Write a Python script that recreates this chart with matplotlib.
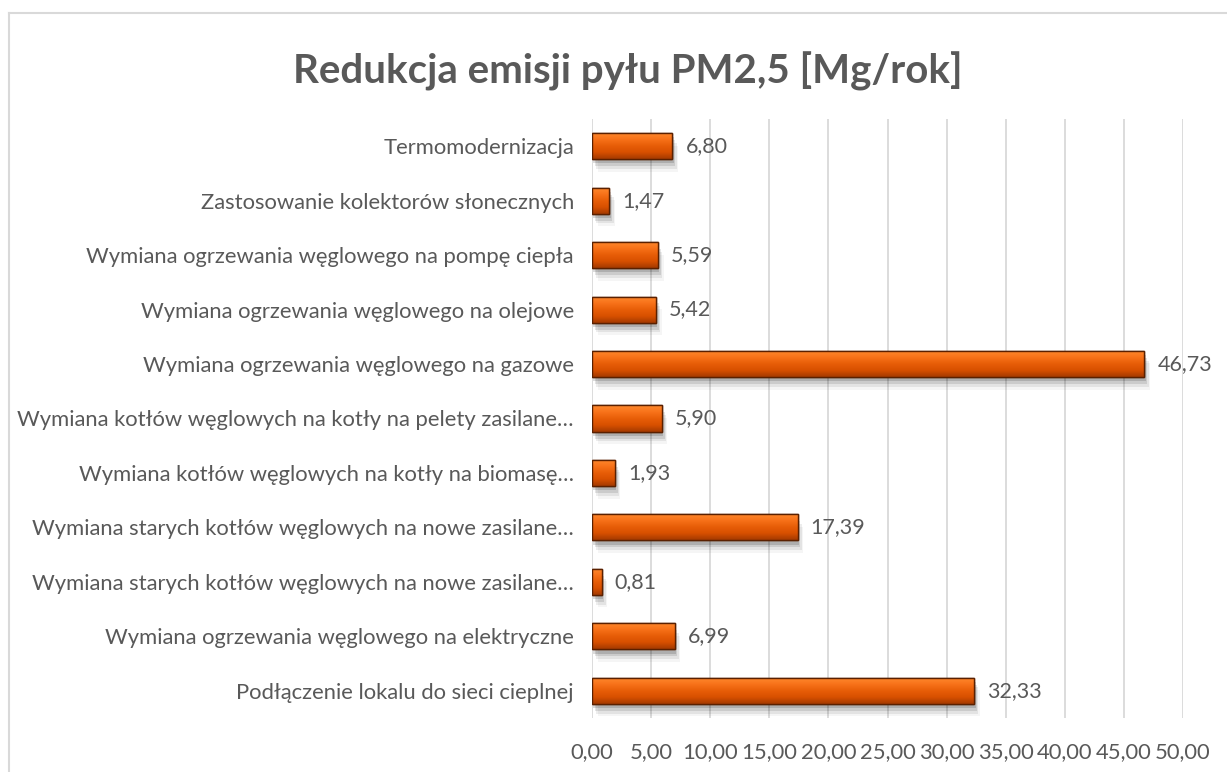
import matplotlib.pyplot as plt
import matplotlib.patheffects as pe
from matplotlib.lines import Line2D
import numpy as np

plt.rcParams['font.family'] = ['Lato', 'DejaVu Sans']

categories = [
    "Termomodernizacja",
    "Zastosowanie kolektorów słonecznych",
    "Wymiana ogrzewania węglowego na pompę ciepła",
    "Wymiana ogrzewania węglowego na olejowe",
    "Wymiana ogrzewania węglowego na gazowe",
    "Wymiana kotłów węglowych na kotły na pelety zasilane…",
    "Wymiana kotłów węglowych na kotły na biomasę…",
    "Wymiana starych kotłów węglowych na nowe zasilane…",
    "Wymiana starych kotłów węglowych na nowe zasilane…",
    "Wymiana ogrzewania węglowego na elektryczne",
    "Podłączenie lokalu do sieci cieplnej",
]
values = [6.80, 1.47, 5.59, 5.42, 46.73, 5.90, 1.93, 17.39, 0.81, 6.99, 32.33]
xticks = np.arange(0, 50.01, 5)

TEXT = "#595959"
GRID = "#d9d9d9"

fig = plt.figure(figsize=(12.27, 7.72), dpi=100)
ax = fig.add_axes([592 / 1227, 1 - 718 / 772, (1183 - 592) / 1227, (718 - 119) / 772])

# chart frame (extends past the right and bottom edges)
fig.add_artist(Line2D([9 / 1227, 1.0], [1 - 13 / 772] * 2, color=GRID, lw=1.5, transform=fig.transFigure))
fig.add_artist(Line2D([9 / 1227] * 2, [0, 1 - 13 / 772], color=GRID, lw=1.5, transform=fig.transFigure))

ypos = np.arange(len(categories))
bars = ax.barh(ypos, values, height=0.48, color="#e85a06", edgecolor="#5a2000", linewidth=1.0,
               zorder=3)

# vertical gradient inside each bar, with a soft shadow
grad = np.linspace(0, 1, 64).reshape(-1, 1)
cmap = plt.matplotlib.colors.LinearSegmentedColormap.from_list(
    "bar", ["#ff8a2e", "#f8731a", "#e85e08", "#d85000", "#a53a00"])
shadow = [pe.SimplePatchShadow(offset=(dx, dy), shadow_rgbFace="#000000", alpha=a)
          for dx, dy, a in [(1, -3, 0.14), (2, -5, 0.10), (3, -7, 0.07), (4, -9, 0.04)]]
for b in bars:
    b.set_path_effects(shadow + [pe.Normal()])
    x0, y0, w, h = b.get_x(), b.get_y(), b.get_width(), b.get_height()
    im = ax.imshow(grad, extent=[x0, x0 + w, y0 + h, y0], aspect="auto", cmap=cmap,
                   zorder=3.5, interpolation="bicubic")
    im.set_clip_path(b)
    ax.add_patch(plt.Rectangle((x0, y0), w, h, fill=False, edgecolor="#5a2000", lw=1.0, zorder=4))
    ax.text(x0 + w + 1.1, y0 + h / 2, f"{w:.2f}".replace(".", ","), va="center", ha="left",
            fontsize=15.5, color=TEXT, zorder=5)

ax.set_xlim(0, 50)
ax.set_ylim(len(categories) - 0.5, -0.5)
ax.set_yticks(ypos)
ax.set_yticklabels(categories, fontsize=15.8, color=TEXT)
ax.set_xticks(xticks)
ax.set_xticklabels([f"{t:.2f}".replace(".", ",") for t in xticks], fontsize=15.8, color=TEXT)
ax.tick_params(axis="both", length=0)
ax.tick_params(axis="x", pad=17)
ax.tick_params(axis="y", pad=13)
ax.grid(axis="x", color=GRID, lw=1.3, zorder=0)
for s in ax.spines.values():
    s.set_visible(False)
ax.set_axisbelow(True)

fig.text(628 / 1227, 1 - 71 / 772, "Redukcja emisji pyłu PM2,5 [Mg/rok]", ha="center", va="center",
         fontsize=29, fontweight="bold", color=TEXT)

fig.savefig("out.png", dpi=100, facecolor="white")
